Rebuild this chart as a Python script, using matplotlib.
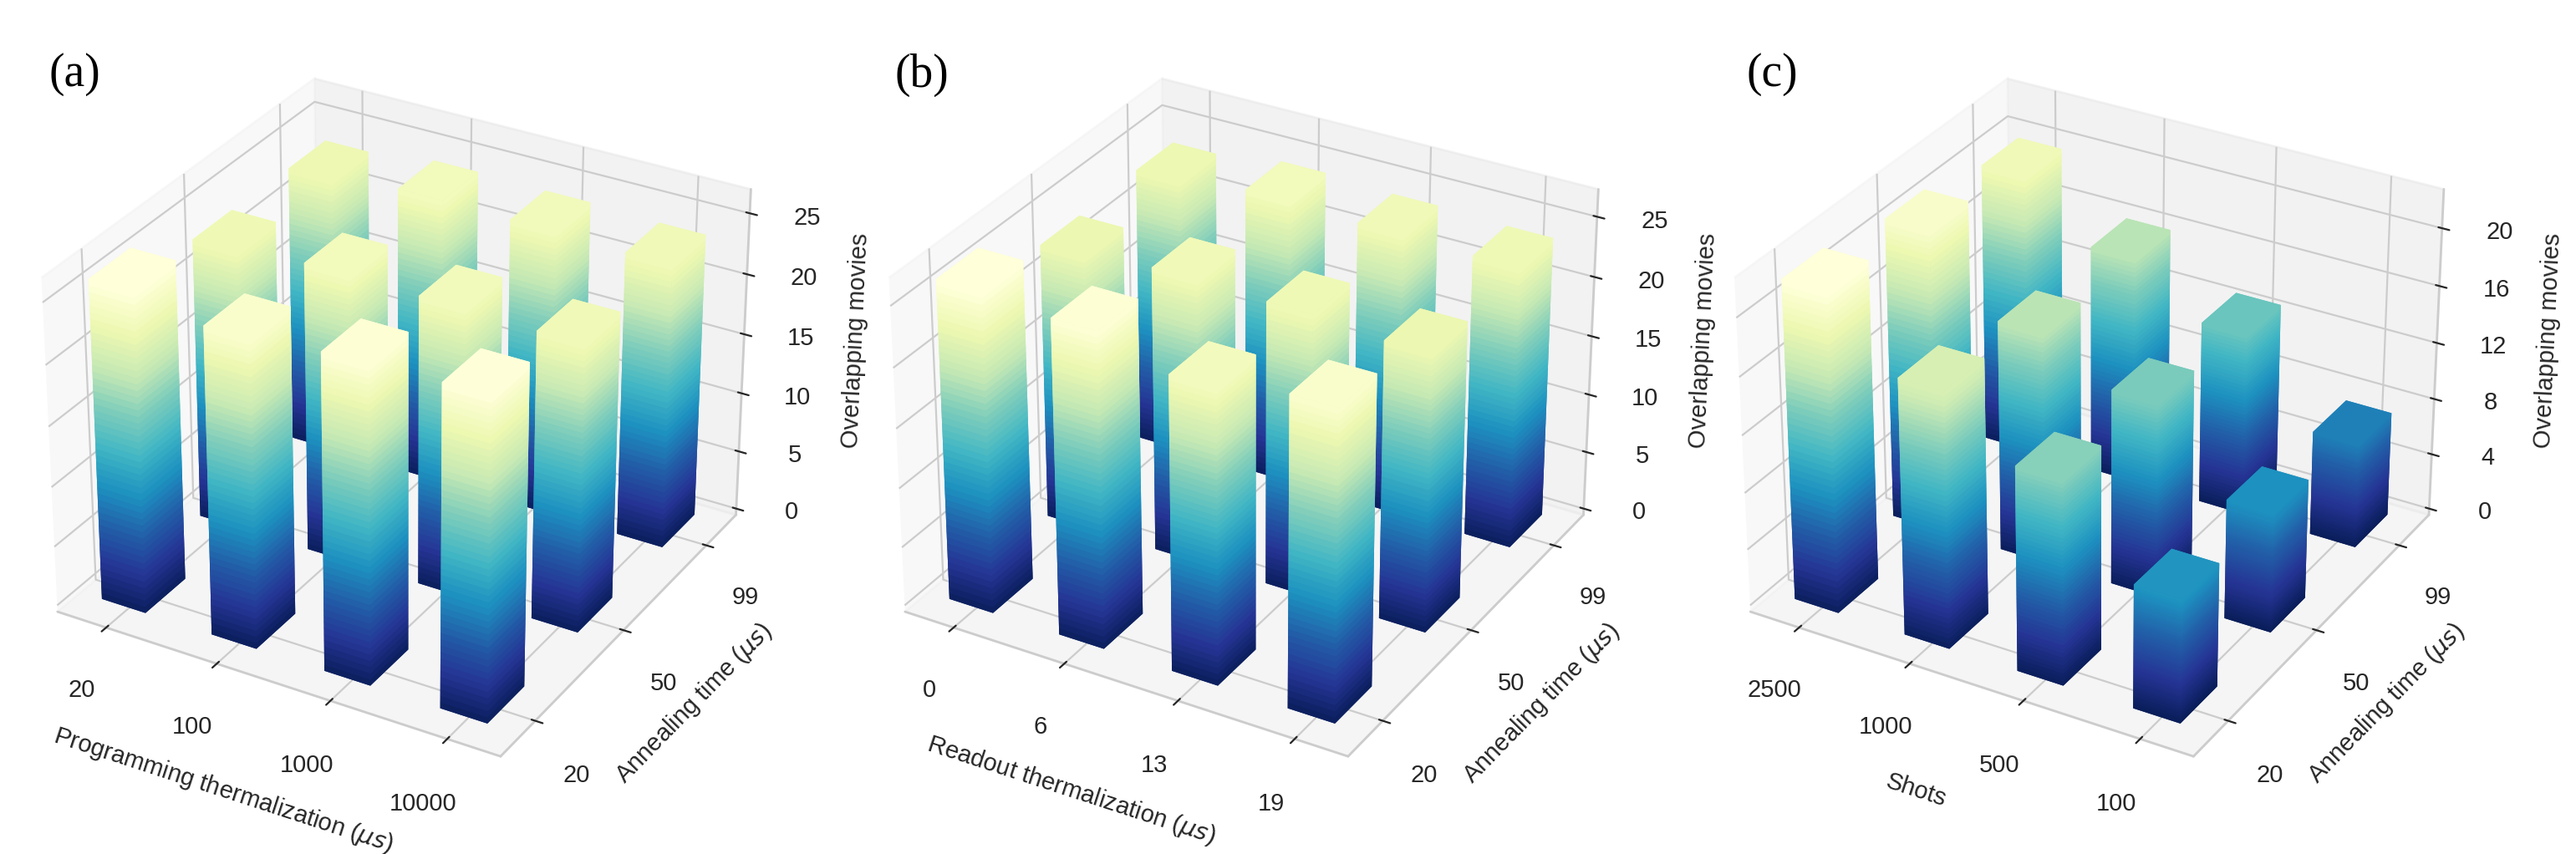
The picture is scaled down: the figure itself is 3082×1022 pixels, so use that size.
import numpy as np
import matplotlib
matplotlib.use('Agg')
import matplotlib.pyplot as plt
from matplotlib import colors

plt.style.use('seaborn-v0_8-whitegrid')
plt.rcParams['font.family'] = ['Liberation Sans', 'DejaVu Sans']
plt.rcParams['axes3d.automargin'] = True

# annealing time rows (front -> back)
anneal_labels = ['20', '50', '99']

prog_labels = ['20', '100', '1000', '10000']
readout_labels = ['0', '6', '13', '19']
shots_labels = ['2500', '1000', '500', '100']

# overlapping movies, rows = annealing 20, 50, 99
prog_movies = [
    [26.4, 25.3, 25.9, 26.2],
    [23.4, 24.0, 23.9, 23.7],
    [23.3, 24.0, 23.9, 23.7],
]
readout_movies = [
    [26.7, 26.2, 24.4, 25.6],
    [23.2, 23.9, 23.7, 23.2],
    [23.4, 24.2, 23.9, 23.7],
]
shots_movies = [
    [22.2, 17.8, 14.2, 8.6],
    [21.1, 16.2, 13.7, 8.4],
    [19.8, 16.1, 12.9, 7.4],
]

cmap = plt.get_cmap('YlGnBu_r')


def draw(ax, labels, values, xlabel, zticks, nseg=50):
    values = np.array(values, dtype=float)
    norm = colors.Normalize(0, values.max())
    xs, ys, zs, hs, cs = [], [], [], [], []
    for j in range(len(anneal_labels)):
        for i in range(len(labels)):
            h = values[j, i] / nseg
            for k in range(nseg):
                xs.append(i - 0.2)
                ys.append(j - 0.2)
                zs.append(k * h)
                hs.append(h)
                cs.append(cmap(norm((k + 1) * h)))
    ax.bar3d(xs, ys, zs, 0.4, 0.4, hs, color=cs, shade=False)

    ax.set_zlim(0, values.max())
    ax.set_xticks(range(len(labels)))
    ax.set_xticklabels(labels)
    ax.set_yticks(range(len(anneal_labels)))
    ax.set_yticklabels(anneal_labels)
    ax.set_zticks(zticks)
    ax.tick_params(labelsize=10.5, pad=8)
    ax.tick_params(axis='z', pad=7)
    ax.set_xlabel(xlabel, fontsize=10.5, labelpad=12)
    ax.set_ylabel('Annealing time ($\\mu s$)', fontsize=10.5, labelpad=7)
    ax.set_zlabel('Overlapping movies', fontsize=10.5, labelpad=9)
    ax.patch.set_visible(False)


fig = plt.figure(figsize=(15.41, 5.11), dpi=200)

ax1 = fig.add_axes([-0.0008, 0.056, 0.3062, 0.9235], projection='3d')
draw(ax1, prog_labels, prog_movies, 'Programming thermalization ($\\mu s$)',
     [0, 5, 10, 15, 20, 25])
ax2 = fig.add_axes([0.3282, 0.056, 0.3062, 0.9235], projection='3d')
draw(ax2, readout_labels, readout_movies, 'Readout thermalization ($\\mu s$)',
     [0, 5, 10, 15, 20, 25])
ax3 = fig.add_axes([0.6564, 0.056, 0.3062, 0.9235], projection='3d')
draw(ax3, shots_labels, shots_movies, 'Shots',
     [0, 4, 8, 12, 16, 20])

for lab, xpos in zip(['(a)', '(b)', '(c)'], [0.019, 0.3475, 0.678]):
    fig.text(xpos, 0.938, lab, fontsize=20, family='Liberation Serif',
             color='black', va='top')

fig.savefig('out.png', dpi=200)
